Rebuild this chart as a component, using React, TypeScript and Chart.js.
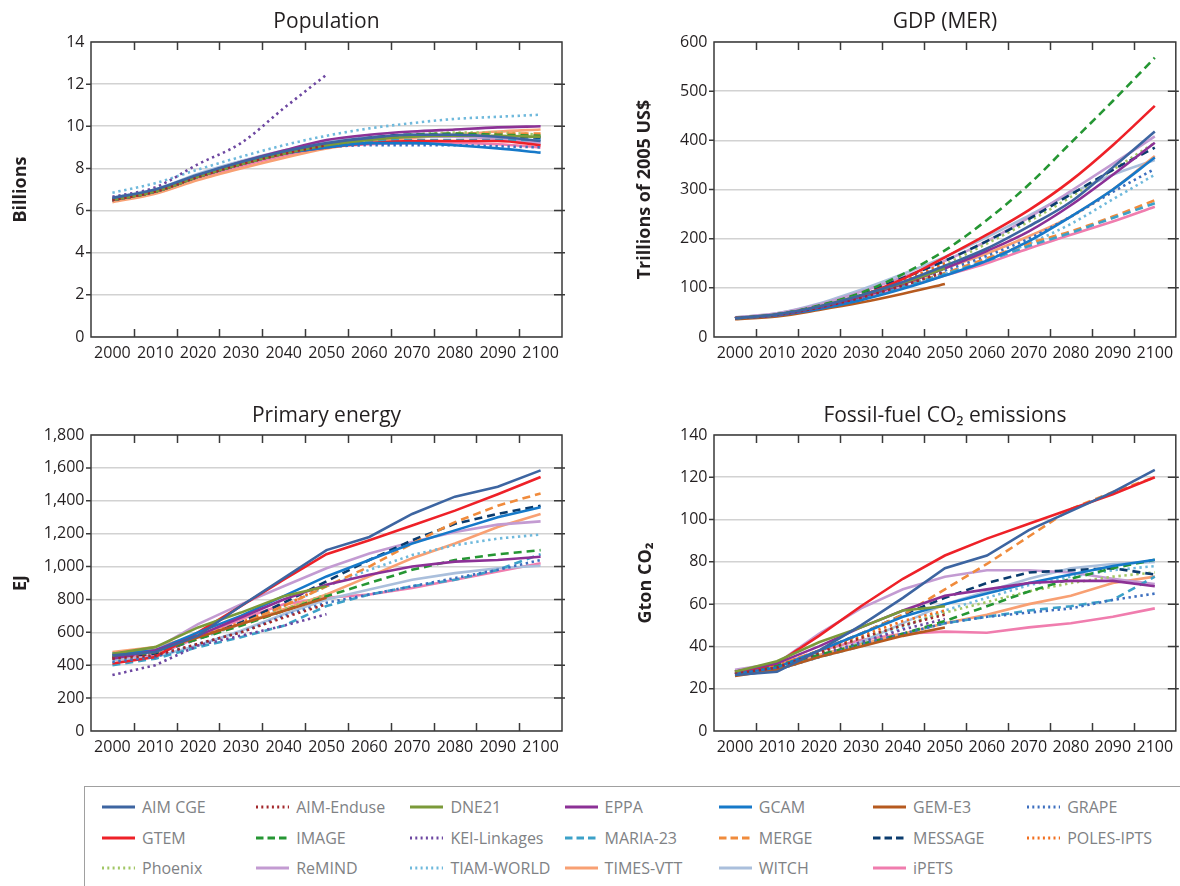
import React, { useEffect, useRef } from "react";
import { Chart, registerables } from "chart.js";

Chart.register(...registerables);

const FONT = "'Open Sans', 'Noto Sans', sans-serif";
const TEXT = "#231f20";

const years = ["2000", "2010", "2020", "2030", "2040", "2050", "2060", "2070", "2080", "2090", "2100"];

const models = [
  "AIM CGE", "AIM-Enduse", "DNE21", "EPPA", "GCAM", "GEM-E3", "GRAPE",
  "GTEM", "IMAGE", "KEI-Linkages", "MARIA-23", "MERGE", "MESSAGE", "POLES-IPTS",
  "Phoenix", "ReMIND", "TIAM-WORLD", "TIMES-VTT", "WITCH", "iPETS",
];

const modelColors = [
  "#3d65a1", "#a3282c", "#7b9a39", "#8c3196", "#1679c9", "#b65a1f", "#3d6fbf",
  "#ee2128", "#259633", "#6d47a1", "#3ca1c8", "#f08b3c", "#0b3c6e", "#f26f1f",
  "#a2c766", "#c39bd2", "#6fb9dc", "#f8a073", "#aabfdc", "#f07dae",
];

const modelStyles = [
  "solid", "dotted", "solid", "solid", "solid", "solid", "dotted",
  "solid", "dashed", "dotted", "dashed", "dashed", "dashed", "dotted",
  "dotted", "solid", "dotted", "solid", "solid", "solid",
];

const N = null;

// Population (billions)
const populationValues: (number | null)[][] = [
  [6.6, 7.0, 7.7, 8.3, 8.8, 9.2, 9.45, 9.6, 9.6, 9.5, 9.3],
  [6.5, 6.9, 7.6, 8.2, 8.7, 9.1, N, N, N, N, N],
  [6.5, 6.9, 7.6, 8.2, 8.7, 9.1, 9.35, 9.5, 9.55, 9.55, 9.5],
  [6.5, 6.95, 7.65, 8.3, 8.85, 9.35, 9.6, 9.75, 9.85, 9.95, 10.0],
  [6.5, 6.9, 7.6, 8.2, 8.7, 9.0, 9.2, 9.2, 9.1, 8.95, 8.75],
  [6.5, 6.9, 7.6, 8.2, 8.7, 9.1, N, N, N, N, N],
  [6.5, 6.9, 7.6, 8.2, 8.7, 9.0, 9.1, 9.1, 9.1, 9.05, 9.0],
  [6.5, 6.9, 7.6, 8.2, 8.7, 9.0, 9.2, 9.3, 9.3, 9.3, 9.1],
  [6.5, 6.9, 7.6, 8.2, 8.7, 9.1, 9.4, 9.6, 9.65, 9.6, 9.55],
  [6.65, 7.1, 8.2, 9.2, 10.85, 12.45, N, N, N, N, N],
  [6.55, 6.95, 7.65, 8.25, 8.75, 9.1, 9.3, 9.35, 9.35, 9.35, 9.35],
  [6.5, 6.9, 7.6, 8.2, 8.7, 9.1, 9.35, 9.55, 9.65, 9.65, 9.65],
  [6.5, 6.9, 7.6, 8.2, 8.75, 9.15, 9.45, 9.6, 9.6, 9.55, 9.45],
  [6.5, 6.9, 7.6, 8.2, 8.7, 9.1, N, N, N, N, N],
  [6.5, 6.9, 7.6, 8.2, 8.7, 9.1, 9.4, 9.6, 9.7, 9.7, 9.6],
  [6.5, 6.95, 7.65, 8.3, 8.8, 9.2, 9.4, 9.5, 9.5, 9.4, 9.2],
  [6.85, 7.3, 7.95, 8.55, 9.1, 9.55, 9.9, 10.15, 10.35, 10.45, 10.55],
  [6.4, 6.8, 7.45, 8.0, 8.5, 8.95, 9.25, 9.45, 9.6, 9.75, 9.85],
  [6.6, 7.0, 7.75, 8.35, 8.85, 9.25, 9.5, 9.6, 9.6, 9.45, 9.15],
  [6.45, 6.85, 7.5, 8.1, 8.6, 9.0, 9.15, 9.2, 9.2, 9.15, 9.0],
];

// GDP (MER), trillions of 2005 US$
const gdpValues: (number | null)[][] = [
  [38, 46, 62, 85, 112, 145, 180, 225, 275, 345, 418],
  [38, 45, 60, 80, 105, 132, N, N, N, N, N],
  [38, 46, 62, 85, 110, 140, N, N, N, N, N],
  [38, 45, 60, 82, 108, 140, 175, 215, 268, 330, 395],
  [38, 44, 57, 75, 98, 125, 155, 195, 245, 300, 365],
  [36, 42, 55, 70, 88, 108, N, N, N, N, N],
  [38, 45, 60, 80, 105, 135, 165, 200, 245, 295, 342],
  [38, 45, 61, 84, 118, 162, 208, 258, 318, 390, 470],
  [38, 46, 64, 90, 128, 176, 238, 310, 395, 480, 568],
  [38, 45, 60, 80, 105, 135, N, N, N, N, N],
  [38, 45, 60, 80, 102, 128, 155, 185, 212, 242, 272],
  [38, 45, 60, 80, 105, 130, 160, 190, 215, 245, 278],
  [38, 46, 63, 88, 120, 155, 195, 240, 290, 340, 385],
  [38, 45, 62, 85, 115, 150, N, N, N, N, N],
  [38, 45, 61, 84, 112, 148, 190, 235, 285, 340, 395],
  [40, 48, 66, 92, 122, 155, 195, 243, 297, 352, 408],
  [38, 44, 58, 78, 102, 128, 158, 190, 230, 280, 330],
  [38, 45, 60, 82, 108, 140, 170, 205, 245, 300, 368],
  [40, 48, 68, 96, 128, 163, 203, 247, 292, 330, 360],
  [40, 45, 60, 78, 100, 125, 150, 180, 208, 235, 265],
];

// Primary energy (EJ)
const energyValues: (number | null)[][] = [
  [460, 480, 580, 760, 930, 1100, 1180, 1320, 1425, 1485, 1585],
  [440, 460, 530, 600, 690, 770, N, N, N, N, N],
  [470, 510, 630, 720, 820, 880, N, N, N, N, N],
  [440, 490, 580, 690, 800, 890, 950, 1000, 1030, 1040, 1060],
  [470, 490, 600, 700, 820, 940, 1040, 1140, 1220, 1300, 1360],
  [460, 490, 570, 650, 730, 810, N, N, N, N, N],
  [420, 450, 530, 600, 700, 780, 830, 880, 930, 980, 1040],
  [410, 450, 600, 760, 920, 1075, 1160, 1250, 1340, 1440, 1545],
  [450, 480, 560, 640, 730, 820, 900, 980, 1040, 1075, 1100],
  [340, 400, 520, 580, 640, 710, N, N, N, N, N],
  [400, 440, 510, 570, 640, 760, 830, 880, 920, 980, 1075],
  [450, 480, 560, 650, 760, 880, 1000, 1140, 1270, 1370, 1445],
  [450, 470, 560, 660, 780, 910, 1040, 1160, 1260, 1320, 1370],
  [450, 480, 570, 660, 760, 890, N, N, N, N, N],
  [450, 480, 570, 650, 740, 830, N, N, N, N, N],
  [445, 500, 650, 770, 880, 990, 1080, 1150, 1210, 1255, 1275],
  [440, 470, 560, 650, 760, 880, 980, 1070, 1130, 1170, 1195],
  [480, 510, 580, 650, 740, 830, 940, 1050, 1140, 1240, 1320],
  [430, 450, 520, 610, 710, 800, 860, 920, 960, 990, 1005],
  [440, 460, 570, 680, 770, 810, 830, 870, 920, 970, 1020],
];

// Fossil-fuel CO2 emissions (Gton CO2)
const co2Values: (number | null)[][] = [
  [26.5, 28, 38, 50, 63, 77, 83, 95, 104, 113, 123.5],
  [27, 30, 37, 44, 50, 55, N, N, N, N, N],
  [28, 33, 42, 49, 57, 59, N, N, N, N, N],
  [28, 32, 40, 49, 57, 64, 67, 70, 71, 71, 68.5],
  [27, 30, 38, 46, 54, 60, 65, 70, 74, 78, 81],
  [26, 29, 35, 40, 45, 49, N, N, N, N, N],
  [27, 29, 35, 41, 46, 51, 54, 56, 58, 62, 65],
  [27, 32, 45, 59, 72, 83, 91, 98, 105, 112, 120],
  [28, 31, 36, 41, 46, 52, 59, 66, 72, 77, 81],
  [27, 30, 36, 42, 48, 53, N, N, N, N, N],
  [28, 30, 35, 40, 46, 51, 54, 57, 59, 62, 73],
  [28, 31, 38, 46, 55, 67, 79, 92, 105, 113, 120],
  [27, 30, 38, 46, 55, 63, 70, 75, 76, 77, 74],
  [28, 31, 38, 45, 52, 57, N, N, N, N, N],
  [28, 31, 37, 44, 50, 56, 61, 66, 70, 73, 75],
  [29, 32, 46, 58, 67, 73, 76, 76, 75, 72, 69.5],
  [27, 29, 35, 42, 49, 57, 63, 69, 73, 76, 78],
  [28, 31, 36, 41, 46, 51, 55, 60, 64, 70, 73],
  [27, 29, 35, 42, 51, 60, 66, 72, 77, 79, 80],
  [28, 31, 38, 43, 46, 47, 46.5, 49, 51, 54, 58],
];

const populationTicks = [0, 2, 4, 6, 8, 10, 12, 14];
const gdpTicks = [0, 100, 200, 300, 400, 500, 600];
const energyTicks = [0, 200, 400, 600, 800, 1000, 1200, 1400, 1600, 1800];
const co2Ticks = [0, 20, 40, 60, 80, 100, 120, 140];

const dashFor = (s: string) => (s === "dotted" ? [2.4, 3.6] : s === "dashed" ? [8, 5] : []);

const framePlugin = {
  id: "frame",
  afterDatasetsDraw(chart: any) {
    const { ctx, chartArea } = chart;
    const { left, right, top, bottom } = chartArea;
    const xs = chart.scales.x;
    const ys = chart.scales.y;
    ctx.save();
    ctx.strokeStyle = "#3a3a3a";
    ctx.lineWidth = 1.5;
    ctx.strokeRect(left, top, right - left, bottom - top);
    ctx.beginPath();
    const n = xs.ticks.length;
    for (let i = 1; i < n; i++) {
      const px = Math.round((xs.getPixelForTick(i - 1) + xs.getPixelForTick(i)) / 2) + 0.5;
      ctx.moveTo(px, bottom);
      ctx.lineTo(px, bottom - 8);
      ctx.moveTo(px, top);
      ctx.lineTo(px, top + 8);
    }
    ys.ticks.forEach((t: any, i: number) => {
      if (i === 0 || i === ys.ticks.length - 1) return;
      const py = ys.getPixelForValue(t.value);
      ctx.moveTo(left - 5, py);
      ctx.lineTo(left, py);
      ctx.moveTo(right - 8, py);
      ctx.lineTo(right + 3, py);
    });
    ctx.stroke();
    ctx.restore();
  },
};

type Geom = {
  left: number;
  top: number;
  width: number;
  height: number;
  yWidth: number;
  xHeight: number;
  padRight: number;
  titleTop: number;
  titleBottom: number;
  yTitlePad: number;
};

function Panel(props: {
  geom: Geom;
  title: string;
  yTitle: string;
  values: (number | null)[][];
  ticks: number[];
  smooth: boolean;
}) {
  const ref = useRef<HTMLCanvasElement>(null);
  const { geom, title, yTitle, values, ticks, smooth } = props;
  useEffect(() => {
    const step = ticks[1] - ticks[0];
    const chart = new Chart(ref.current as HTMLCanvasElement, {
      type: "line",
      data: {
        labels: years,
        datasets: models.map((m, i) => ({
          label: m,
          data: values[i],
          borderColor: modelColors[i],
          backgroundColor: modelColors[i],
          borderWidth: 2.6,
          borderDash: dashFor(modelStyles[i]),
          pointRadius: 0,
          fill: false,
          spanGaps: false,
          cubicInterpolationMode: smooth ? "monotone" : "default",
          tension: 0,
        })),
      },
      options: {
        responsive: false,
        animation: false,
        events: [],
        layout: { padding: { left: 0, right: geom.padRight, top: 0, bottom: 0 } },
        plugins: {
          legend: { display: false },
          tooltip: { enabled: false },
          title: {
            display: true,
            text: title,
            fullSize: false,
            color: TEXT,
            font: { family: FONT, size: 21, weight: "normal" },
            padding: { top: geom.titleTop, bottom: geom.titleBottom },
          },
        },
        scales: {
          x: {
            type: "category",
            offset: true,
            grid: { display: false, drawTicks: false },
            border: { display: false },
            ticks: {
              color: TEXT,
              font: { family: FONT, size: 16 },
              padding: 6.7,
              maxRotation: 0,
              autoSkip: false,
            },
            afterFit: (s: any) => {
              s.height = geom.xHeight;
            },
          },
          y: {
            min: ticks[0],
            max: ticks[ticks.length - 1],
            grid: { color: "#d2d2d2", lineWidth: 1.6, drawTicks: false },
            border: { display: false },
            ticks: {
              stepSize: step,
              color: TEXT,
              font: { family: FONT, size: 16 },
              padding: 6.5,
              callback: (v: any) => Number(v).toLocaleString("en-US"),
            },
            title: {
              display: true,
              text: yTitle,
              color: TEXT,
              font: { family: FONT, size: 18, weight: "bold" },
              padding: { top: geom.yTitlePad, bottom: 0 },
            },
            afterFit: (s: any) => {
              s.width = geom.yWidth;
            },
          },
        },
      } as any,
      plugins: [framePlugin],
    });
    return () => chart.destroy();
  }, []);
  return (
    <div style={{ position: "absolute", left: geom.left, top: geom.top, width: geom.width, height: geom.height }}>
      <canvas ref={ref} width={geom.width} height={geom.height} style={{ width: geom.width, height: geom.height, display: "block" }} />
    </div>
  );
}

const geomPop: Geom = { left: 0, top: 0, width: 590, height: 390, yWidth: 91, xHeight: 53, padRight: 28, titleTop: 9, titleBottom: 7.8, yTitlePad: 9.7 };
const geomGdp: Geom = { left: 590, top: 0, width: 590, height: 390, yWidth: 124, xHeight: 53, padRight: 1, titleTop: 9, titleBottom: 7.8, yTitlePad: 43.8 };
const geomEnergy: Geom = { left: 0, top: 390, width: 590, height: 390, yWidth: 91, xHeight: 49, padRight: 28, titleTop: 13.4, titleBottom: 6.4, yTitlePad: 9.9 };
const geomCo2: Geom = { left: 590, top: 390, width: 590, height: 390, yWidth: 124, xHeight: 49, padRight: 1, titleTop: 13.4, titleBottom: 6.4, yTitlePad: 45 };

function LegendSwatch({ color, style }: { color: string; style: string }) {
  const dash = style === "dotted" ? "2 3.3" : style === "dashed" ? "7.5 4" : undefined;
  return (
    <svg width={33} height={8} style={{ display: "block" }}>
      <line x1={0} y1={4} x2={33} y2={4} stroke={color} strokeWidth={3} strokeDasharray={dash} />
    </svg>
  );
}

function Legend() {
  const rowCenters = [20, 51, 81];
  return (
    <div
      style={{
        position: "absolute",
        left: 84,
        top: 786,
        width: 1110,
        height: 120,
        border: "1px solid #a0a0a0",
        boxSizing: "border-box",
      }}
    >
      {models.map((m, i) => {
        const col = i % 7;
        const row = Math.floor(i / 7);
        return (
          <div
            key={m}
            style={{
              position: "absolute",
              left: 17 + col * 154.2,
              top: rowCenters[row] - 12,
              height: 24,
              display: "flex",
              alignItems: "center",
              whiteSpace: "nowrap",
            }}
          >
            <LegendSwatch color={modelColors[i]} style={modelStyles[i]} />
            <span style={{ marginLeft: 7, fontFamily: FONT, fontSize: 16, color: "#808285", lineHeight: "24px" }}>{m}</span>
          </div>
        );
      })}
    </div>
  );
}

export default function App() {
  return (
    <div
      style={{
        position: "absolute",
        left: 0,
        top: 0,
        width: 1180,
        height: 886,
        overflow: "hidden",
        background: "#ffffff",
      }}
    >
      <Panel geom={geomPop} title="Population" yTitle="Billions" values={populationValues} ticks={populationTicks} smooth={true} />
      <Panel geom={geomGdp} title="GDP (MER)" yTitle="Trillions of 2005 US$" values={gdpValues} ticks={gdpTicks} smooth={true} />
      <Panel geom={geomEnergy} title="Primary energy" yTitle="EJ" values={energyValues} ticks={energyTicks} smooth={false} />
      <Panel geom={geomCo2} title="Fossil-fuel CO₂ emissions" yTitle="Gton CO₂" values={co2Values} ticks={co2Ticks} smooth={false} />
      <Legend />
    </div>
  );
}
